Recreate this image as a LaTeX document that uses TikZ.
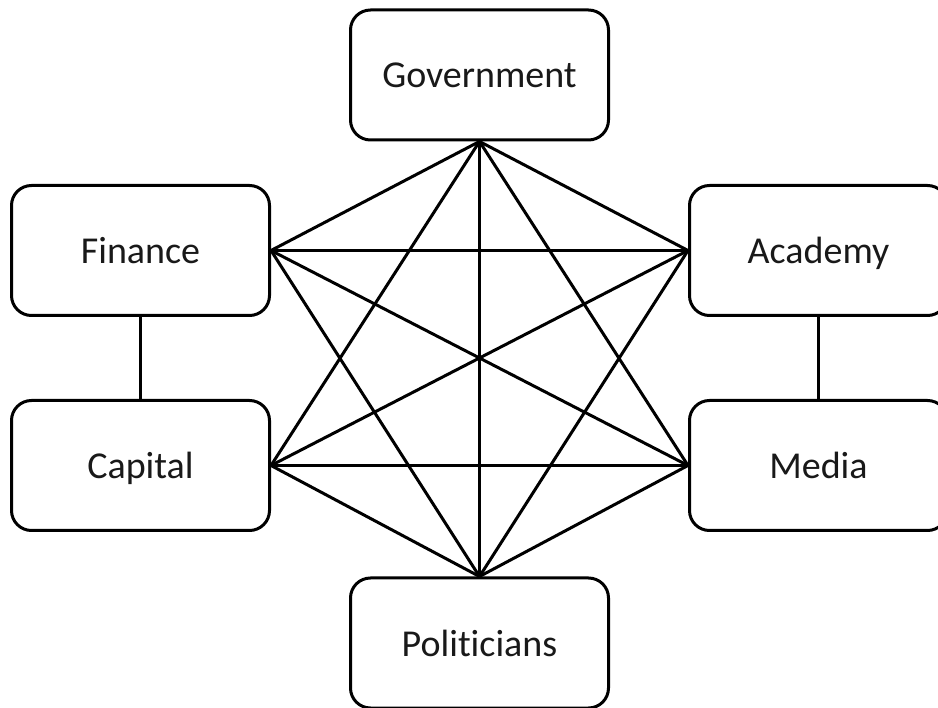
\documentclass[tikz,border=0pt]{standalone}
\usepackage{fontspec}
\setmainfont{Carlito}[Ligatures=NoCommon]
\begin{document}
\begin{tikzpicture}[x=1pt,y=-1pt,
  box/.style={draw, line width=3pt, rounded corners=20pt, minimum width=258pt, minimum height=130pt, inner sep=0pt, text height=26pt, text depth=0pt, font=\fontsize{38}{44}\selectfont, text=black!90},
  link/.style={line width=3pt}]
\useasboundingbox (0,0) rectangle (938,708);
\node[box] (gov) at (479.5,75) {Government};
\node[box] (fin) at (140.5,250.5) {Finance};
\node[box] (aca) at (818.5,250.5) {Academy};
\node[box] (cap) at (140.5,465.5) {Capital};
\node[box] (med) at (818.5,465.5) {Media};
\node[box] (pol) at (479.5,643) {Politicians};
\draw[link] (fin) -- (cap);
\draw[link] (aca) -- (med);
\foreach \a/\b in {gov.south/fin.east, gov.south/aca.west, gov.south/cap.east, gov.south/med.west, gov.south/pol.north,
  fin.east/aca.west, fin.east/med.west, fin.east/pol.north,
  aca.west/cap.east, aca.west/pol.north,
  cap.east/med.west, cap.east/pol.north, med.west/pol.north}
  \draw[link] (\a) -- (\b);
\end{tikzpicture}
\end{document}
